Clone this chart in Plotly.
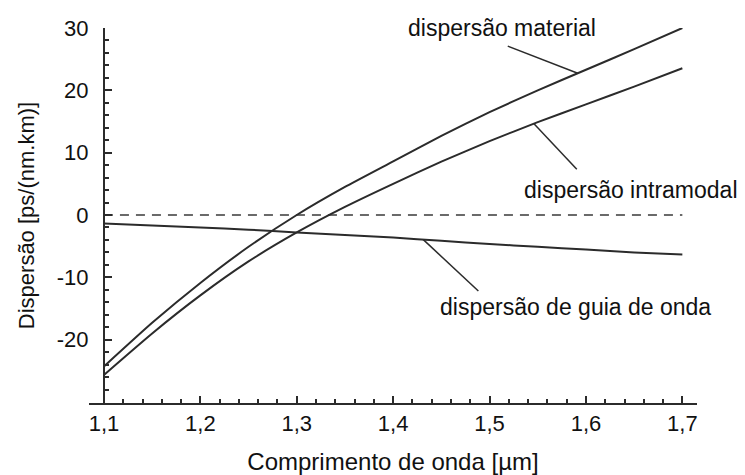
import plotly.graph_objects as go

# Wavelength samples [µm] and dispersion curves [ps/(nm.km)]
wavelength = [1.10, 1.15, 1.20, 1.25, 1.30, 1.35, 1.40, 1.45, 1.50, 1.55, 1.60, 1.65, 1.70]
material = [-24.3, -17.3, -10.9, -5.1, 0.0, 4.5, 8.6, 12.7, 16.5, 20.0, 23.3, 26.6, 30.0]
waveguide = [-1.35, -1.7, -2.0, -2.35, -2.8, -3.2, -3.6, -4.15, -4.65, -5.1, -5.55, -6.0, -6.35]
intramodal = [-25.65, -19.0, -12.9, -7.45, -2.8, 1.3, 5.0, 8.55, 11.85, 14.9, 17.75, 20.6, 23.55]

x_tickvals = [1.1, 1.2, 1.3, 1.4, 1.5, 1.6, 1.7]
x_ticktext = ["1,1", "1,2", "1,3", "1,4", "1,5", "1,6", "1,7"]
y_tickvals = [-20, -10, 0, 10, 20, 30]
y_ticktext = ["-20", "-10", "0", "10", "20", "30"]

# Curve labels with their leader lines (start near text, end on the curve)
labels = ["dispersão material", "dispersão intramodal", "dispersão de guia de onda"]
label_pos = [(1.4134, 29.95), (1.5334, 4.0), (1.4469, -14.8)]
leaders = [((1.5189, 27.1), (1.5915, 22.75)),
           ((1.5905, 7.35), (1.5461, 14.65)),
           ((1.4884, -12.2), (1.4313, -3.95))]

X_RANGE = [1.0845, 1.7152]
Y_RANGE = [-30.16, 30]
FONT = "Liberation Sans, Arial, sans-serif"
INK = "#2b2b2b"

fig = go.Figure()

# zero reference
fig.add_trace(go.Scatter(x=[wavelength[0], wavelength[-1]], y=[0, 0], mode="lines",
                         line=dict(color="#6a6a6a", width=2, dash="9px,7px"),
                         hoverinfo="skip", showlegend=False))

for ys in (material, intramodal, waveguide):
    fig.add_trace(go.Scatter(x=wavelength, y=ys, mode="lines",
                             line=dict(color=INK, width=2, shape="spline", smoothing=0.5),
                             showlegend=False))

for (p0, p1) in leaders:
    fig.add_trace(go.Scatter(x=[p0[0], p1[0]], y=[p0[1], p1[1]], mode="lines",
                             line=dict(color=INK, width=1.5),
                             hoverinfo="skip", showlegend=False))

for txt, (lx, ly) in zip(labels, label_pos):
    fig.add_annotation(x=lx, y=ly, text=txt, showarrow=False, xanchor="left",
                       yanchor="middle", font=dict(family=FONT, size=23, color="#111"))

yaxis_pos = (1.1 - X_RANGE[0]) / (X_RANGE[1] - X_RANGE[0])

fig.update_layout(
    width=745, height=475,
    margin=dict(l=89, r=48, t=28, b=72),
    paper_bgcolor="white", plot_bgcolor="white",
    font=dict(family=FONT, size=22, color="#111"),
    xaxis=dict(range=X_RANGE, showgrid=False, zeroline=False, automargin=False,
               showline=True, linecolor=INK, linewidth=2,
               tickmode="array", tickvals=x_tickvals, ticktext=x_ticktext,
               ticks="inside", ticklen=7, tickwidth=1.5, tickcolor=INK,
               ticklabelstandoff=0,
               minor=dict(ticks="inside", ticklen=4, tickwidth=1.5, tickcolor=INK,
                          tick0=1.1, dtick=0.02),
               title=dict(text="Comprimento de onda [µm]", font=dict(size=24), standoff=18)),
    yaxis=dict(range=Y_RANGE, showgrid=False, zeroline=False, automargin=False,
               anchor="free", position=yaxis_pos,
               showline=True, linecolor=INK, linewidth=2,
               tickmode="array", tickvals=y_tickvals, ticktext=y_ticktext,
               ticks="inside", ticklen=7, tickwidth=1.5, tickcolor=INK,
               ticklabelstandoff=10,
               minor=dict(ticks="inside", ticklen=4, tickwidth=1.5, tickcolor=INK,
                          tick0=0, dtick=2),
               title=dict(text="Dispersão [ps/(nm.km)]", font=dict(size=22), standoff=15)),
)

fig.write_html("out.html")
